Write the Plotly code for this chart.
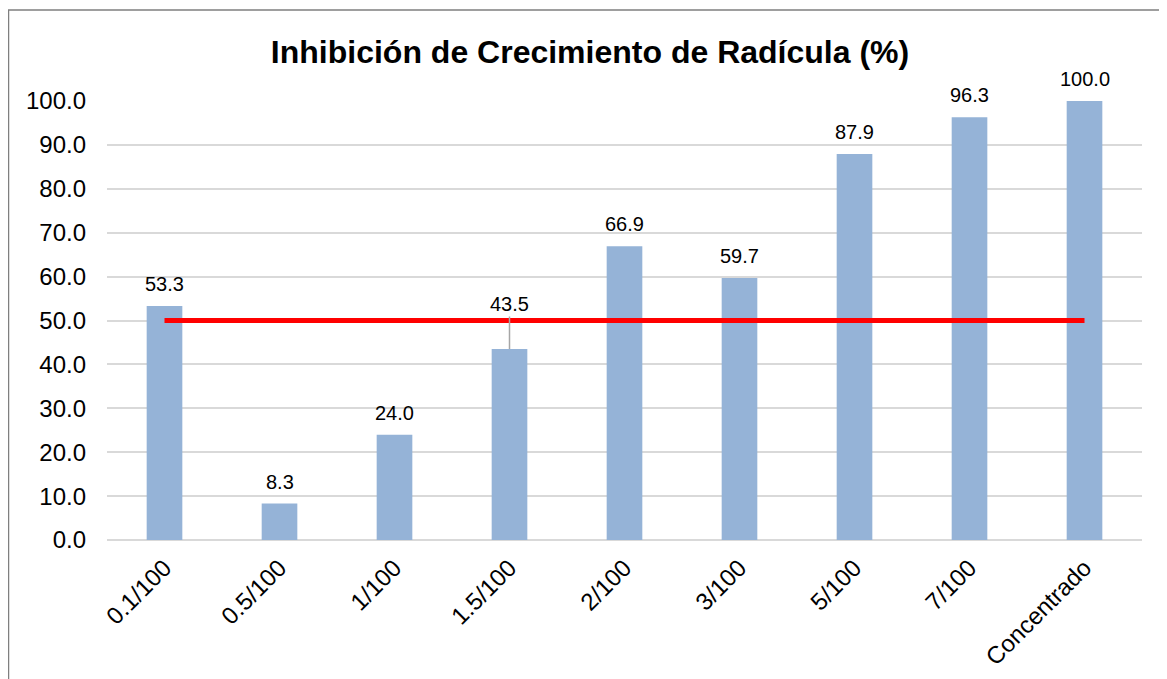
import plotly.graph_objects as go

categories = ["0.1/100", "0.5/100", "1/100", "1.5/100", "2/100", "3/100", "5/100", "7/100", "Concentrado"]
inhibition = [53.3, 8.3, 24.0, 43.5, 66.9, 59.7, 87.9, 96.3, 100.0]
reference_line = [50, 50, 50, 50, 50, 50, 50, 50, 50]
y_ticks = [0, 10, 20, 30, 40, 50, 60, 70, 80, 90, 100]
moved_label = "1.5/100"

# page has an 8px body margin
W, H = 1159, 671
ml, mr, mt, mb = 99, 25, 93, 139
pw, ph = W - ml - mr, H - mt - mb

FONT = "Liberation Sans, Arial"
LABEL_FONT = dict(family=FONT, size=20, color="#000000")

fig = go.Figure()
fig.add_trace(go.Bar(
    x=categories, y=inhibition,
    marker=dict(color="#95B3D7", line=dict(width=0)),
    cliponaxis=False, showlegend=False,
))
fig.add_trace(go.Scatter(
    x=categories, y=reference_line, mode="lines",
    line=dict(color="#FF0000", width=5), showlegend=False,
))

for c, v in zip(categories, inhibition):
    if c == moved_label:
        fig.add_annotation(
            x=c, y=v, text=f"{v:.1f}",
            showarrow=True, arrowhead=0, arrowwidth=1.5, arrowcolor="#A6A6A6",
            ax=0, ay=-45, standoff=0, startstandoff=0, font=LABEL_FONT,
        )
    else:
        fig.add_annotation(
            x=c, y=v, text=f"{v:.1f}", showarrow=False,
            yanchor="bottom", yshift=9, font=LABEL_FONT,
        )

# outer chart border
fig.add_shape(type="rect", xref="paper", yref="paper",
              x0=(0.5 - ml) / pw, x1=(W + 5 - ml) / pw,
              y0=-(H + 5 - mt - ph) / ph, y1=(mt + ph - 2) / ph,
              line=dict(color="#7F7F7F", width=1.5), layer="below")

fig.update_layout(
    width=W, height=H,
    margin=dict(l=ml, r=mr, t=mt, b=mb, autoexpand=False),
    paper_bgcolor="white", plot_bgcolor="white",
    bargap=0.69,
    title=dict(text="<b>Inhibición de Crecimiento de Radícula (%)</b>",
               x=582 / W, xanchor="center", y=1 - 44 / H, yanchor="middle",
               font=dict(family=FONT, size=32, color="#000000")),
    xaxis=dict(showgrid=False, tickangle=-45, showline=False, ticks="",
               ticklabelstandoff=8, automargin=False,
               tickfont=dict(family=FONT, size=24, color="#000000")),
    yaxis=dict(range=[0, 100], tickvals=y_ticks, tickformat=".1f",
               showgrid=True, gridcolor="#D9D9D9", gridwidth=1.5,
               zeroline=True, zerolinecolor="#D9D9D9", zerolinewidth=1.5,
               ticks="", ticklabelstandoff=20, automargin=False,
               tickfont=dict(family=FONT, size=24, color="#000000")),
)

fig.write_html("out.html")
